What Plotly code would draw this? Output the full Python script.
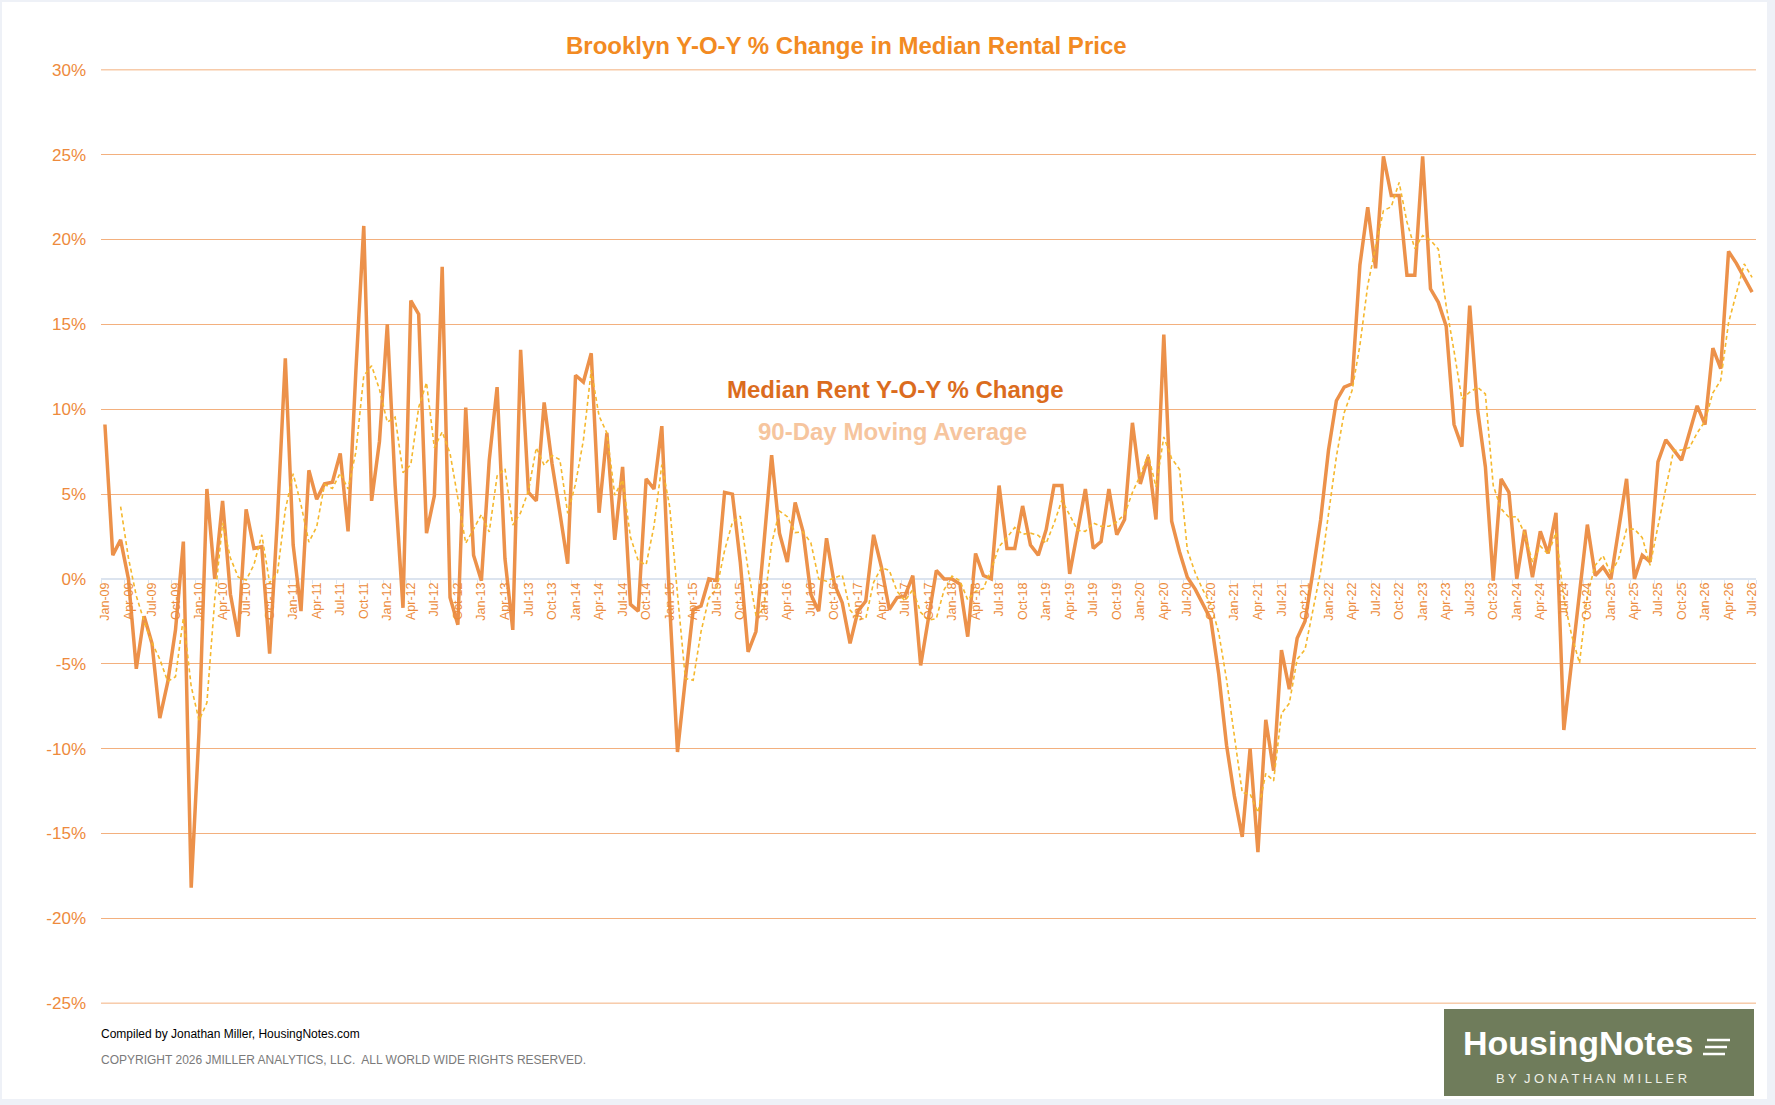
import pandas as pd
import plotly.graph_objects as go

# monthly Y-O-Y % change in median rent, Jan-09 .. Jul-26
start_month = "2009-01"
yoy_2009 = [9.1, 1.4, 2.3, 0.0, -5.3, -2.2, -3.8, -8.2, -6.1, -3.0, 2.2, -18.2]
yoy_2010 = [-9.0, 5.3, 0.0, 4.6, -0.9, -3.4, 4.1, 1.8, 1.9, -4.4, 3.6, 13.0]
yoy_2011 = [2.0, -1.9, 6.4, 4.7, 5.6, 5.7, 7.4, 2.8, 12.3, 20.8, 4.6, 8.1]
yoy_2012 = [15.0, 5.5, -1.7, 16.4, 15.6, 2.7, 4.9, 18.4, -1.1, -2.7, 10.1, 1.4]
yoy_2013 = [-0.1, 7.0, 11.3, 1.2, -3.0, 13.5, 5.1, 4.6, 10.4, 6.8, 3.9, 0.9]
yoy_2014 = [12.0, 11.6, 13.3, 3.9, 8.6, 2.3, 6.6, -1.5, -1.9, 5.9, 5.3, 9.0]
yoy_2015 = [-1.5, -10.2, -5.9, -1.8, -1.6, 0.0, -0.1, 5.1, 5.0, 1.0, -4.3, -3.1]
yoy_2016 = [2.0, 7.3, 2.7, 1.0, 4.5, 2.8, -0.9, -1.9, 2.4, -0.3, -1.4, -3.8]
yoy_2017 = [-1.9, -1.3, 2.6, 0.7, -1.8, -1.1, -1.0, 0.2, -5.1, -2.4, 0.5, 0.0]
yoy_2018 = [0.0, -0.3, -3.4, 1.5, 0.2, 0.0, 5.5, 1.8, 1.8, 4.3, 2.0, 1.4]
yoy_2019 = [2.9, 5.5, 5.5, 0.3, 2.8, 5.3, 1.8, 2.2, 5.3, 2.6, 3.5, 9.2]
yoy_2020 = [5.6, 7.2, 3.5, 14.4, 3.4, 1.6, 0.1, -0.6, -1.5, -2.4, -5.6, -9.8]
yoy_2021 = [-12.8, -15.2, -10.0, -16.1, -8.3, -11.3, -4.2, -6.5, -3.5, -2.5, 0.4, 3.5]
yoy_2022 = [7.6, 10.5, 11.3, 11.5, 18.5, 21.9, 18.3, 24.9, 22.6, 22.6, 17.9, 17.9]
yoy_2023 = [24.9, 17.1, 16.3, 14.9, 9.1, 7.8, 16.1, 10.0, 6.6, -0.1, 5.9, 5.1]
yoy_2024 = [0.0, 2.9, 0.1, 2.8, 1.5, 3.9, -8.9, -5.0, -1.0, 3.2, 0.2, 0.7]
yoy_2025 = [0.0, 2.9, 5.9, 0.0, 1.4, 1.0, 6.9, 8.2, 7.6, 7.0, 8.6, 10.2]
yoy_2026 = [9.1, 13.6, 12.4, 19.3, 18.6, 17.8, 16.9]

yoy = (yoy_2009 + yoy_2010 + yoy_2011 + yoy_2012 + yoy_2013 + yoy_2014
       + yoy_2015 + yoy_2016 + yoy_2017 + yoy_2018 + yoy_2019 + yoy_2020
       + yoy_2021 + yoy_2022 + yoy_2023 + yoy_2024 + yoy_2025 + yoy_2026)

months = list(pd.date_range(start_month, periods=len(yoy), freq="MS").strftime("%b-%y"))
tick_labels = months[::3]

y_ticks = [-25, -20, -15, -10, -5, 0, 5, 10, 15, 20, 25, 30]
y_tick_text = ["-25%", "-20%", "-15%", "-10%", "-5%", "0%", "5%", "10%", "15%", "20%", "25%", "30%"]

# 90-day (3 month) moving average trendline, like the spreadsheet's
moving_avg = pd.Series(yoy).rolling(3).mean()

W, H = 1775, 1105
L, R, T, B = 101, 19, 69, 101


def px_x(x):
    return (x - L) / (W - L - R)


def px_y(y):
    return (H - B - y) / (H - T - B)


FONT = "Liberation Sans, Arial, sans-serif"
GRID = "#F3B07E"

fig = go.Figure()
fig.add_trace(go.Scatter(
    x=months, y=yoy, mode="lines", name="Median Rent Y-O-Y % Change",
    line=dict(color="#EC914A", width=3.5),
))
fig.add_trace(go.Scatter(
    x=months, y=moving_avg, mode="lines", name="90-Day Moving Average",
    line=dict(color="#F5B82E", width=1.6, dash="4px,3px"),
))

fig.update_layout(
    width=W, height=H,
    margin=dict(l=L, r=R, t=T, b=B),
    paper_bgcolor="#EEF1F7",
    plot_bgcolor="white",
    showlegend=False,
    font=dict(family=FONT),
    xaxis=dict(
        type="category", categoryorder="array", categoryarray=months,
        range=[-0.5, len(months) - 0.5],
        tickmode="array", tickvals=tick_labels, ticktext=tick_labels,
        tickangle=-90, tickfont=dict(size=12.5, color="#EC8B3A"),
        anchor="free", position=25 / 55,
        showgrid=False, showline=False, zeroline=False,
        ticks="outside", tickson="boundaries", ticklen=4, tickcolor="#DCE4EF",
    ),
    yaxis=dict(
        range=[-25.05, 30.05],
        tickmode="array", tickvals=y_ticks, ticktext=y_tick_text,
        tickfont=dict(size=17, color="#EE8A3C"),
        gridcolor=GRID, gridwidth=1,
        zeroline=True, zerolinecolor="#DCE4EF", zerolinewidth=1.5,
        showline=False, ticks="", ticklabelstandoff=14,
    ),
)

shapes = [
    # white page inside the light frame
    dict(type="rect", xref="paper", yref="paper", layer="below",
         x0=px_x(2), x1=px_x(1767), y0=px_y(1099), y1=px_y(2),
         fillcolor="white", line=dict(width=0)),
    # HousingNotes badge
    dict(type="rect", xref="paper", yref="paper",
         x0=px_x(1444), x1=px_x(1754), y0=px_y(1096), y1=px_y(1009),
         fillcolor="#6F7C5B", line=dict(width=0)),
]
# gridlines on the range edges (plotly skips these)
for edge in (y_ticks[0], y_ticks[-1]):
    shapes.append(dict(type="line", xref="paper", yref="y", layer="below",
                       x0=0, x1=1, y0=edge, y1=edge, line=dict(color=GRID, width=1)))
for y_line, x_a, x_b in [(1040, 1707, 1730), (1047, 1705, 1727), (1054, 1703, 1725)]:
    shapes.append(dict(type="line", xref="paper", yref="paper",
                       x0=px_x(x_a), x1=px_x(x_b), y0=px_y(y_line), y1=px_y(y_line),
                       line=dict(color="white", width=2.5)))
fig.update_layout(shapes=shapes)

annotations = [
    dict(text="<b>Brooklyn Y-O-Y % Change in Median Rental Price</b>",
         x=px_x(846), y=px_y(46), font=dict(size=24, color="#F28A22")),
    dict(text="<b>Median Rent Y-O-Y % Change</b>",
         x=px_x(895), y=px_y(390), font=dict(size=24, color="#DB6C1E")),
    dict(text="<b>90-Day Moving Average</b>",
         x=px_x(892), y=px_y(431), font=dict(size=24, color="#F6C59E")),
    dict(text="Compiled by Jonathan Miller, HousingNotes.com",
         x=px_x(99), y=px_y(1034), xanchor="left", font=dict(size=12, color="black")),
    dict(text="COPYRIGHT 2026 JMILLER ANALYTICS, LLC.\u00a0 ALL WORLD WIDE RIGHTS RESERVED.",
         x=px_x(99), y=px_y(1060), xanchor="left", font=dict(size=12, color="#7A7A7A")),
    dict(text="<b>HousingNotes</b>",
         x=px_x(1578), y=px_y(1043), font=dict(size=34, color="white")),
    dict(text="B Y\u00a0 J O N A T H A N\u00a0 M I L L E R",
         x=px_x(1591), y=px_y(1078), font=dict(size=13, color="#EEF0E8")),
]
for a in annotations:
    a.update(xref="paper", yref="paper", showarrow=False,
             xanchor=a.get("xanchor", "center"), yanchor="middle")
fig.update_layout(annotations=annotations)

fig.write_html("out.html", config={"displayModeBar": False},
               post_script="document.body.style.margin='0';")
